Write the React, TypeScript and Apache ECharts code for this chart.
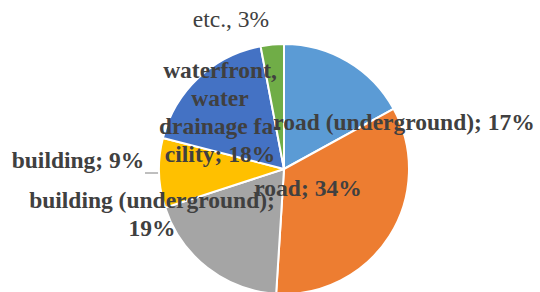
import React, { useEffect, useRef } from "react";
import * as echarts from "echarts";

const categories = [
  "road (underground)",
  "road",
  "building (underground)",
  "building",
  "waterfront, water drainage facility",
  "etc.",
];
const values = [17, 34, 19, 9, 18, 3];
const labelTexts = [
  "road (underground); 17%",
  "road; 34%",
  "building (underground);\n19%",
  "building; 9%",
  "waterfront,\nwater\ndrainage fa-\ncility; 18%",
  "etc., 3%",
];
const colors = ["#5B9BD5", "#ED7D31", "#A5A5A5", "#FFC000", "#4472C4", "#70AD47"];
// label centre positions (style)
const labelPos: [number, number][] = [
  [404, 122],
  [308, 188],
  [152, 214],
  [78, 160],
  [220, 112],
  [231, 19],
];

export default function App() {
  const ref = useRef<HTMLDivElement>(null);
  useEffect(() => {
    if (!ref.current) return;
    const chart = echarts.init(ref.current, null, { renderer: "svg" });
    const data = categories.map((name, i) => ({
      name,
      value: values[i],
      itemStyle: { color: colors[i] },
      label: {
        formatter: labelTexts[i],
        fontWeight: i === 5 ? "normal" : "bold",
      },
      labelLine: { show: i === 3, length: 2, length2: 2, lineStyle: { color: "#7f7f7f", width: 1 } },
    }));
    chart.setOption({
      animation: false,
      backgroundColor: "#ffffff",
      series: [
        {
          type: "pie",
          center: [284, 169],
          radius: 125,
          startAngle: 90,
          clockwise: true,
          avoidLabelOverlap: false,
          itemStyle: { borderColor: "#ffffff", borderWidth: 2 },
          label: {
            show: true,
            position: "outside",
            fontFamily: "'Liberation Serif', 'Times New Roman', serif",
            fontSize: 23.5,
            lineHeight: 28,
            color: "#404040",
            align: "center",
          },
          labelLayout: (params: any) => {
            const p = labelPos[params.dataIndex];
            const res: any = { x: p[0], y: p[1], align: "center", verticalAlign: "middle" };
            if (params.dataIndex === 3) {
              res.labelLinePoints = [
                [159, 173],
                [152, 173],
                [145, 173],
              ];
            }
            return res;
          },
          data,
        },
      ],
    });
    return () => chart.dispose();
  }, []);
  return (
    <div
      ref={ref}
      style={{ position: "fixed", left: 0, top: 0, width: 540, height: 292 }}
    />
  );
}
